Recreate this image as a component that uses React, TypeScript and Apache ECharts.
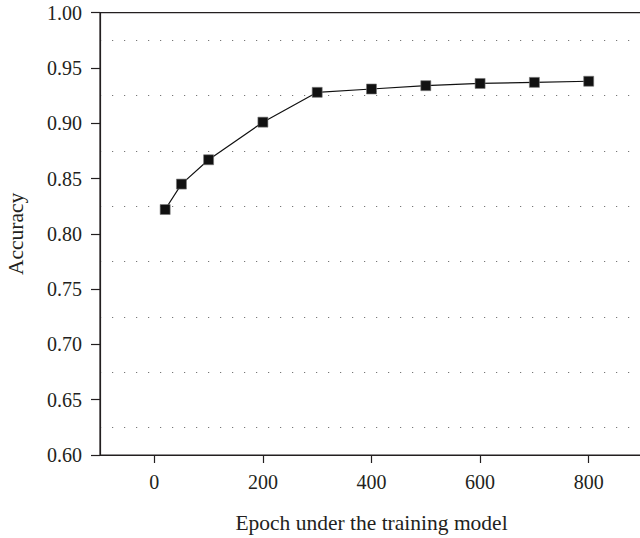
import React, { useEffect, useRef } from "react";
import * as echarts from "echarts";

const epochs = [20, 50, 100, 200, 300, 400, 500, 600, 700, 800];
const accuracy = [0.822, 0.845, 0.867, 0.901, 0.928, 0.931, 0.934, 0.936, 0.937, 0.938];
const xTickValues = [0, 200, 400, 600, 800];
const xAxisTitle = "Epoch under the training model";
const yAxisTitle = "Accuracy";

const INK = "#231f20";
const FONT = "'Liberation Serif', 'DejaVu Serif', serif";

export default function App() {
  const ref = useRef<HTMLDivElement>(null);
  useEffect(() => {
    if (!ref.current) return;
    const chart = echarts.init(ref.current, undefined, { renderer: "svg" });
    chart.setOption({
      animation: false,
      backgroundColor: "#ffffff",
      grid: {
        left: 100,
        top: 12.7,
        bottom: 83,
        right: -3,
        containLabel: false,
        outerBoundsMode: "none",
        show: true,
        borderColor: INK,
        borderWidth: 1.2,
        backgroundColor: "transparent",
      },
      xAxis: {
        type: "value",
        min: -100,
        max: 900,
        name: xAxisTitle,
        nameLocation: "middle",
        nameGap: 57,
        nameTextStyle: { fontFamily: FONT, fontSize: 21.5, color: INK },
        axisLine: { show: true, onZero: false, lineStyle: { color: INK, width: 1.2 } },
        axisTick: {
          show: true,
          length: 8,
          customValues: xTickValues,
          lineStyle: { color: INK, width: 1.2 },
        },
        axisLabel: {
          customValues: xTickValues,
          margin: 16.5,
          fontFamily: FONT,
          fontSize: 20,
          color: INK,
        },
        splitLine: { show: false },
      },
      yAxis: {
        type: "value",
        min: 0.6,
        max: 1.0,
        interval: 0.05,
        name: yAxisTitle,
        nameLocation: "middle",
        nameGap: 73,
        nameTextStyle: { fontFamily: FONT, fontSize: 21.5, color: INK },
        axisLine: { show: true, onZero: false, lineStyle: { color: INK, width: 1.2 } },
        axisTick: { show: true, length: 9, lineStyle: { color: INK, width: 1.2 } },
        axisLabel: {
          margin: 18,
          fontFamily: FONT,
          fontSize: 20,
          color: INK,
          formatter: (v: number) => v.toFixed(2),
        },
        splitLine: { show: false },
        minorTick: { show: false, splitNumber: 2 },
        minorSplitLine: {
          show: true,
          lineStyle: { color: "#777", width: 1.2, type: [1.2, 10.8] },
        },
      },
      series: [
        {
          type: "line",
          data: epochs.map((e, i) => [e, accuracy[i]]),
          symbol: "rect",
          symbolSize: 10,
          itemStyle: { color: "#111", borderColor: "#777", borderWidth: 0.6 },
          lineStyle: { color: "#111", width: 1.2 },
          z: 5,
        },
      ],
    });
    return () => chart.dispose();
  }, []);
  return (
    <div
      ref={ref}
      style={{ position: "fixed", left: 0, top: 0, width: 640, height: 538 }}
    />
  );
}
